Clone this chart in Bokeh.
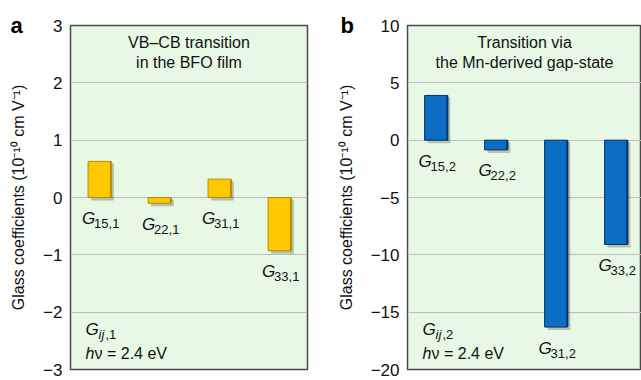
from bokeh.plotting import figure
from bokeh.layouts import row
from bokeh.models import FixedTicker, Label, Range1d
from bokeh.core.properties import value
from bokeh.embed import file_html
from bokeh.resources import INLINE

# ---------------- data ----------------
positions = [1, 2, 3, 4]
subs_a = ["15,1", "22,1", "31,1", "33,1"]
values_a = [0.63, -0.10, 0.32, -0.93]
subs_b = ["15,2", "22,2", "31,2", "33,2"]
values_b = [3.9, -0.85, -16.3, -9.1]
ticks_a = [-3, -2, -1, 0, 1, 2, 3]
tick_labels_a = ["\u22123", "\u22122", "\u22121", "0", "1", "2", "3"]
ticks_b = [-20, -15, -10, -5, 0, 5, 10]
tick_labels_b = ["\u221220", "\u221215", "\u221210", "\u22125", "0", "5", "10"]
title_a = ["VB\u2013CB transition", "in the BFO film"]
title_b = ["Transition via", "the Mn-derived gap-state"]
gidx_a = ",1"
gidx_b = ",2"
ylabel = "Glass coefficients (10\u207b\u00b9\u2070 cm V\u207b\u00b9)"

FONT = "Liberation Sans"
H = 380
TOP, BOTTOM = 23, 11
FRAME_H = H - TOP - BOTTOM
INK = "#111111"


def panel(vals, subs, ticks, tick_labels, title_lines, letter, gidx,
          width, bl, br, xr, yr, fill, edge, letter_dx):
    p = figure(width=width, height=H, output_backend="svg", toolbar_location=None,
               x_range=Range1d(*xr), y_range=Range1d(*yr),
               min_border_left=bl, min_border_right=br,
               min_border_top=TOP, min_border_bottom=BOTTOM)
    p.background_fill_color = "#E7F9E4"
    p.border_fill_color = "white"
    p.outline_line_color = "#4a4a4a"
    p.outline_line_width = 1.5
    p.xaxis.visible = False
    p.xgrid.visible = False
    p.ygrid.grid_line_color = "#bdbdbd"
    p.ygrid.grid_line_width = 1
    ax = p.yaxis[0]
    ax.ticker = FixedTicker(ticks=ticks)
    ax.major_label_overrides = {t: l for t, l in zip(ticks, tick_labels)}
    ax.major_tick_out = 0
    ax.major_tick_in = 0
    ax.minor_tick_out = 0
    ax.minor_tick_in = 0
    ax.axis_line_color = None
    ax.major_label_standoff = 8
    ax.major_label_text_font = FONT
    ax.major_label_text_font_size = "17px"
    ax.major_label_text_color = INK
    ax.axis_label = ylabel
    ax.axis_label_text_font = FONT
    ax.axis_label_text_font_size = "16px"
    ax.axis_label_text_font_style = "normal"
    ax.axis_label_text_color = INK
    ax.axis_label_standoff = 13

    frame_w = width - bl - br
    px_x = (xr[1] - xr[0]) / frame_w
    px_y = (yr[1] - yr[0]) / FRAME_H
    bw = 0.38
    tops = [max(v, 0) for v in vals]
    bots = [min(v, 0) for v in vals]
    # soft shadow
    p.quad(left=[x - bw / 2 + 3 * px_x for x in positions],
           right=[x + bw / 2 + 3 * px_x for x in positions],
           top=[t - 2 * px_y for t in tops], bottom=[b - 3 * px_y for b in bots],
           fill_color="#000000", fill_alpha=0.22, line_color=None)
    p.vbar(x=positions, width=bw, top=tops, bottom=bots,
           fill_color=fill, line_color=edge, line_width=1)
    p.segment(x0=[x + bw / 2 for x in positions], x1=[x + bw / 2 for x in positions],
              y0=tops, y1=bots, line_color=edge, line_width=2)

    # G labels below each bar
    lx = [x - 0.29 for x in positions]
    p.text(x=lx, y=bots, text=["G"] * 4, y_offset=21,
           text_font=value(FONT), text_font_size="17px", text_font_style="italic",
           text_baseline="middle", text_align="left", text_color=INK)
    p.text(x=lx, y=bots, text=subs, x_offset=12, y_offset=26,
           text_font=value(FONT), text_font_size="13px",
           text_baseline="middle", text_align="left", text_color=INK)

    # in-frame title
    cx = (xr[0] + xr[1]) / 2
    for i, line in enumerate(title_lines):
        p.text(x=[cx], y=[yr[1]], text=[line], y_offset=17 + 20 * i,
               text_font=value(FONT), text_font_size="16px",
               text_baseline="middle", text_align="center", text_color=INK)

    # G_ij and h nu note
    x0 = xr[0]
    y0 = yr[0]
    p.text(x=[x0], y=[y0], text=["G"], x_offset=15, y_offset=-40,
           text_font=value(FONT), text_font_size="17px", text_font_style="italic",
           text_baseline="middle", text_align="left", text_color=INK)
    p.text(x=[x0], y=[y0], text=["ij"], x_offset=28, y_offset=-35,
           text_font=value(FONT), text_font_size="13px", text_font_style="italic",
           text_baseline="middle", text_align="left", text_color=INK)
    p.text(x=[x0], y=[y0], text=[gidx], x_offset=35, y_offset=-35,
           text_font=value(FONT), text_font_size="13px",
           text_baseline="middle", text_align="left", text_color=INK)
    p.text(x=[x0], y=[y0], text=["h"], x_offset=15, y_offset=-16,
           text_font=value(FONT), text_font_size="16px", text_font_style="italic",
           text_baseline="middle", text_align="left", text_color=INK)
    p.text(x=[x0], y=[y0], text=["\u03bd = 2.4 eV"], x_offset=24, y_offset=-16,
           text_font=value(FONT), text_font_size="16px",
           text_baseline="middle", text_align="left", text_color=INK)

    # panel letter (placed in a side panel so it is not clipped to the frame)
    lab = Label(x=xr[0], y=yr[1], x_offset=letter_dx, y_offset=0, text=letter,
                text_font=FONT, text_font_size="22px", text_font_style="bold",
                text_baseline="alphabetic", text_color="black")
    p.add_layout(lab, "above")
    return p


pa = panel(values_a, subs_a, ticks_a, tick_labels_a, title_a, "a", gidx_a,
           width=320, bl=70, br=13, xr=(0.517, 4.467), yr=(-3, 3),
           fill="#FFC800", edge="#B88A00", letter_dx=-60)
pb = panel(values_b, subs_b, ticks_b, tick_labels_b, title_b, "b", gidx_b,
           width=321, bl=87, br=0, xr=(0.525, 4.425), yr=(-20, 10),
           fill="#0B6DC4", edge="#04336A", letter_dx=-67)

layout = row(pa, pb, spacing=0)
open("out.html", "w").write(file_html(layout, INLINE))
